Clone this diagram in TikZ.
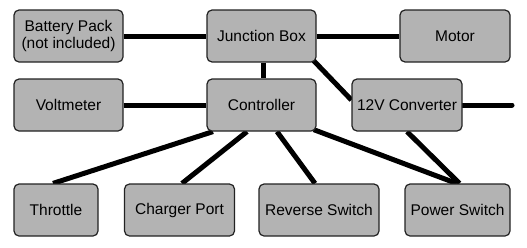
\documentclass[tikz,border=0pt]{standalone}
\usepackage{fontspec}
\setmainfont{Liberation Sans}
\usetikzlibrary{backgrounds}
\definecolor{boxfill}{HTML}{B3B3B3}
\definecolor{boxline}{HTML}{222222}
\begin{document}
\begin{tikzpicture}[x=1pt,y=-1pt,
  box/.style={draw=boxline, line width=1.2pt, fill=boxfill, rounded corners=5pt,
    minimum height=52pt, inner sep=0pt, align=center, font=\fontsize{15.5}{17}\selectfont},
  wire/.style={line width=5pt, black}]
\useasboundingbox (0,0) rectangle (527,247);
\node[box, minimum width=109pt] (bat) at (68.5,36) {Battery Pack\\(not included)};
\node[box, minimum width=109pt] (jb) at (261.5,36) {Junction Box};
\node[box, minimum width=110pt] (motor) at (455,36) {Motor};
\node[box, minimum width=109pt] (volt) at (68.5,105) {Voltmeter};
\node[box, minimum width=109pt] (ctrl) at (261.5,105) {Controller};
\node[box, minimum width=110pt] (conv) at (407,105) {12V Converter};
\node[box, minimum width=84pt] (thr) at (56,210) {Throttle};
\node[box, minimum width=110pt] (chg) at (179.5,210) {Charger Port};
\node[box, minimum width=120pt] (rev) at (319,210) {Reverse Switch};
\node[box, minimum width=105pt] (pwr) at (457.5,210) {Power Switch};
\coordinate (out) at (512,105);
\begin{scope}[on background layer]
\draw[wire] (bat) -- (jb);
\draw[wire] (jb) -- (motor);
\draw[wire] ([xshift=1.5pt]jb.south) -- ([xshift=1.5pt]ctrl.north);
\draw[wire] (volt) -- (ctrl);
\draw[wire] ([xshift=-3pt,yshift=2pt]jb.south east) -- ([yshift=5pt]conv.west);
\draw[wire, line cap=round] (conv.east) -- (out);
\draw[wire] ([xshift=-48.5pt]ctrl.south) -- ([xshift=-3pt]thr.north);
\draw[wire] ([xshift=-14.5pt]ctrl.south) -- ([xshift=2.5pt]chg.north);
\draw[wire] ([xshift=15.5pt]ctrl.south) -- ([xshift=-4pt]rev.north);
\draw[wire] ([xshift=-3pt,yshift=2pt]ctrl.south east) -- ([xshift=-1pt]pwr.north);
\draw[wire] (conv.south) -- ([xshift=2pt]pwr.north);
\end{scope}
\end{tikzpicture}
\end{document}
